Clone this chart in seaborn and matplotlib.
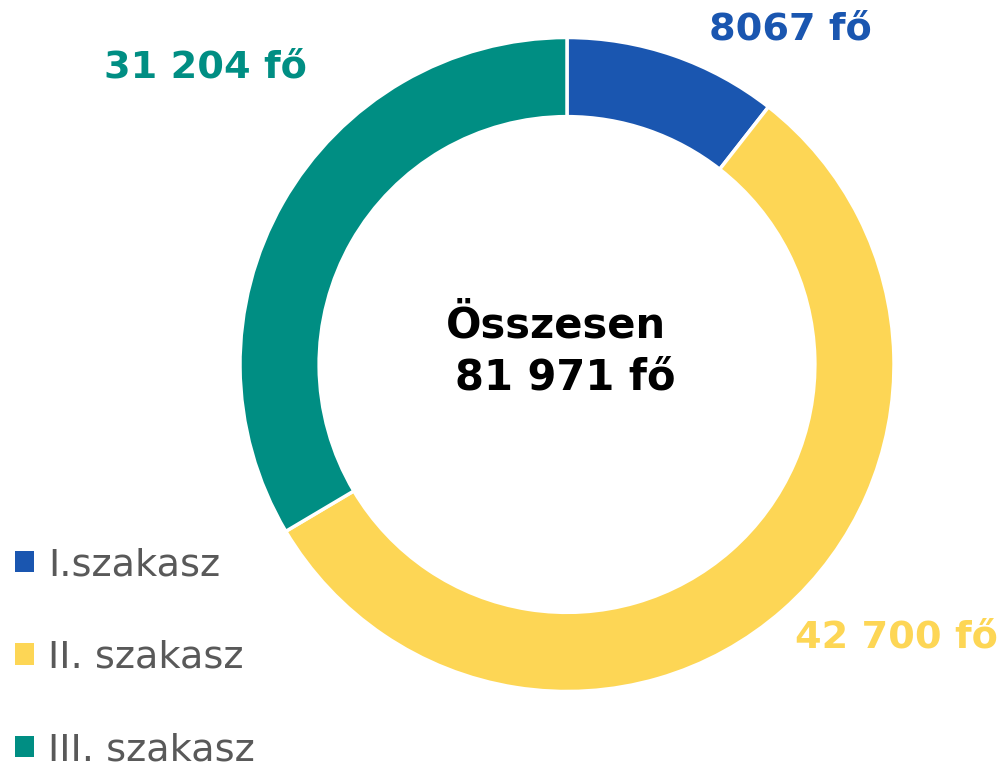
import matplotlib
matplotlib.use("Agg")
import matplotlib.pyplot as plt
import seaborn as sns

categories = ["I.szakasz", "II. szakasz", "III. szakasz"]
# wedge sizes as drawn in the reference (arc angles ~38°, ~201°, ~121°)
wedge_values = [8067, 42700, 25600]
value_labels = ["8067 fő", "42 700 fő", "31 204 fő"]
center_line1 = "Összesen"
center_line2 = "81 971 fő"
colors = ["#1A56B0", "#FDD655", "#008E83"]

sns.set_theme(style="white")
plt.rcParams["font.family"] = ["DejaVu Sans"]

W, H = 1002, 767
fig = plt.figure(figsize=(W / 100, H / 100), dpi=100)
cx, cy, R = 567, 364.5, 327
ax = fig.add_axes([(cx - R) / W, (H - cy - R) / H, 2 * R / W, 2 * R / H])
wedges, _ = ax.pie(wedge_values, colors=colors, startangle=90, counterclock=False,
                   radius=1.0, wedgeprops=dict(width=0.242, edgecolor="white", linewidth=2.5))
ax.set_xlim(-1, 1)
ax.set_ylim(-1, 1)
ax.set_aspect("equal")
ax.axis("off")

fig.text(556 / W, 1 - 325 / H, center_line1, ha="center", va="center", fontsize=30,
         fontweight="bold", color="black")
fig.text(565 / W, 1 - 378 / H, center_line2, ha="center", va="center", fontsize=30,
         fontweight="bold", color="black")

fig.text(790 / W, 1 - 30 / H, value_labels[0], ha="center", va="center",
         fontsize=27.5, fontweight="bold", color=colors[0])
fig.text(896 / W, 1 - 638 / H, value_labels[1], ha="center", va="center",
         fontsize=27.5, fontweight="bold", color=colors[1])
fig.text(205 / W, 1 - 67 / H, value_labels[2], ha="center", va="center",
         fontsize=27.5, fontweight="bold", color=colors[2])

leg = fig.legend(wedges, categories, loc="upper left",
                 bbox_to_anchor=(15 / W, 1 - 547 / H), frameon=False,
                 fontsize=27.5, labelcolor="#595959", handlelength=0.5,
                 handleheight=0.5, handletextpad=0.36, labelspacing=1.48,
                 borderaxespad=0.0, borderpad=0.0)
for h in leg.legend_handles:
    h.set_edgecolor("none")

fig.savefig("out.png", dpi=100)
